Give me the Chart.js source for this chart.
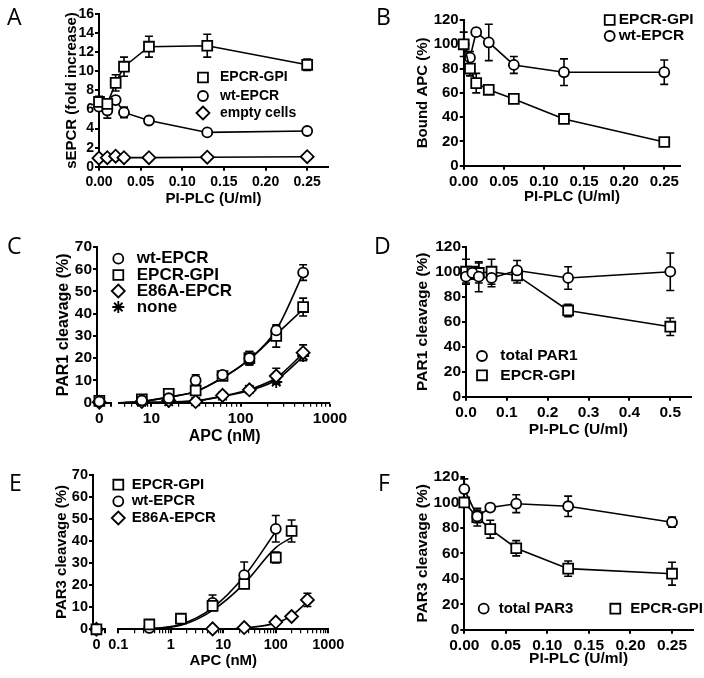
<!DOCTYPE html>
<html>
<head>
<meta charset="utf-8">
<title>EPCR PI-PLC panels</title>
<script src="https://cdn.jsdelivr.net/npm/chart.js@4.4.1/dist/chart.umd.min.js"></script>
<style>
  body { margin: 0; background: #fff; }
  #figure { position: relative; width: 704px; height: 678px; background: #fff; }
  #figure canvas { position: absolute; }
  .tag { position: absolute; font: 400 23px/1 "Open Sans", sans-serif; color: #000; }
</style>
</head>
<body>
<div id="figure">
  <canvas id="chartA" width="352" height="226" style="left:0;top:0"></canvas>
  <canvas id="chartB" width="352" height="226" style="left:352px;top:0"></canvas>
  <canvas id="chartC0" width="352" height="226" style="left:0;top:226px"></canvas>
  <canvas id="chartC" width="352" height="226" style="left:0;top:226px"></canvas>
  <canvas id="chartD" width="352" height="226" style="left:352px;top:226px"></canvas>
  <canvas id="chartE0" width="352" height="226" style="left:0;top:452px"></canvas>
  <canvas id="chartE" width="352" height="226" style="left:0;top:452px"></canvas>
  <canvas id="chartF" width="352" height="226" style="left:352px;top:452px"></canvas>
  <div class="tag" style="left:7px;top:5px">A</div>
  <div class="tag" style="left:376px;top:5px">B</div>
  <div class="tag" style="left:7px;top:234px">C</div>
  <div class="tag" style="left:374px;top:234px">D</div>
  <div class="tag" style="left:9px;top:471px">E</div>
  <div class="tag" style="left:378px;top:471px">F</div>
</div>
<script>
// ---- data ----

// A: sEPCR release (fold increase) vs PI-PLC
var aDose = [0, 0.01, 0.02, 0.03, 0.06, 0.13, 0.25];
var aGpi = [6.8, 6.6, 8.8, 10.5, 12.6, 12.7, 10.7];
var aGpiErr = [0.6, 0.5, 0.85, 1.0, 1.1, 1.2, 0.6];
var aWt = [6.3, 5.9, 7.0, 5.7, 4.85, 3.6, 3.75];
var aWtErr = [0.4, 0.8, 0.3, 0.55, 0.2, 0.2, 0.2];
var aEmpty = [0.9, 0.95, 1.1, 0.95, 0.95, 1.0, 1.05];
var aEmptyErr = [0.1, 0.1, 0.1, 0.1, 0.1, 0.1, 0.1];

// B: bound APC (%) vs PI-PLC
var bDose = [0, 0.0078, 0.0156, 0.03125, 0.0625, 0.125, 0.25];
var bGpi = [100, 80, 68, 62.5, 55, 38.5, 19.5];
var bGpiErr = [2, 6, 8, 2, 3, 3, 3];
var bWt = [100, 89, 110, 101.5, 83, 77, 77];
var bWtErr = [10, 5, 3, 15, 7, 11, 10];

// C: PAR1 cleavage (%) vs APC (nM), log axis plus a separate 0 segment
var cDose = [7.8, 15.6, 31.25, 62.5, 125, 250, 500];
var cWt = [1.0, 2.0, 10.0, 12.5, 20.0, 32.5, 58.5];
var cWtErr = [0.5, 0.5, 2.5, 1.0, 3.0, 2.0, 3.5];
var cGpi = [1.5, 4.0, 5.5, 12.0, 20.0, 30.0, 43.0];
var cGpiErr = [0.5, 1.0, 1.0, 1.5, 3.0, 5.0, 4.0];
var cE86a = [0.5, 1.0, 0.5, 3.3, 5.8, 12.0, 22.5];
var cE86aErr = [0.3, 0.5, 0.5, 1.0, 1.0, 3.5, 3.5];
var cNone = [0.3, 0.5, 0.5, 3.0, 6.0, 9.3, 21.0];
var cNoneErr = [0.3, 0.3, 0.3, 0.5, 0.8, 1.0, 2.0];
var zeroDose = [0];
var cWt0 = [0.5], cGpi0 = [0.8], cE86a0 = [0.2], cNone0 = [0.3];
// fitted curves, read at the same doses
var cFitDose = [4.36, 7.8, 15.6, 31.25, 62.5, 125, 250, 500];
var cWtFit = [0, 0.5, 2.5, 5.0, 11.2, 19.5, 32.7, 58.0];
var cGpiFit = [0, 0.5, 2.5, 5.0, 11.2, 19.5, 30.7, 42.0];
var cE86aFit = [0, 0.1, 0.3, 0.8, 3.0, 5.9, 11.2, 22.2];
var cNoneFit = [0, 0.1, 0.3, 0.8, 2.8, 5.5, 10.2, 20.7];

// D: PAR1 cleavage (%) vs PI-PLC
var dDose = [0, 0.0156, 0.03125, 0.0625, 0.125, 0.25, 0.5];
var dTotal = [96, 99, 96, 95, 101, 95, 100];
var dTotalErr = [5, 5, 12, 7, 8, 9, 15];
var dGpi = [100, 100, 99, 100, 97, 69, 56];
var dGpiErr = [10, 4, 8, 10, 6, 5, 7];

// E: PAR3 cleavage (%) vs APC (nM)
var eGpiDose = [0.39, 1.56, 6.25, 25, 100, 200];
var eGpi = [2.2, 4.8, 10.6, 20.5, 32.5, 44.5];
var eGpiErr = [0.5, 0.8, 1.5, 1.5, 2.5, 5.0];
var eWtDose = [0.39, 1.56, 6.25, 25, 100];
var eWt = [0.6, 4.5, 12.0, 24.5, 45.5];
var eWtErr = [0.3, 0.5, 3.5, 6.0, 6.0];
var eE86aDose = [6.25, 25, 100, 200, 400];
var eE86a = [0.2, 0.8, 3.3, 5.8, 13.3];
var eE86aErr = [0.3, 0.5, 0.8, 1.0, 3.0];
var eGpi0 = [0], eWt0 = [0], eE86a0 = [0];
var eGpiFitDose = [0.1, 0.39, 1.56, 6.25, 25, 100, 200];
var eGpiFit = [0, 0.3, 1.8, 8.6, 20.7, 37.0, 41.5];
var eWtFitDose = [0.1, 0.39, 1.56, 6.25, 25, 100];
var eWtFit = [0, 0.3, 2.3, 9.7, 24.0, 44.3];
var eE86aFitDose = [0.1, 1.56, 6.25, 25, 100, 200, 400];
var eE86aFit = [0, 0, 0.1, 0.6, 2.8, 6.2, 12.5];

// F: PAR3 cleavage (%) vs PI-PLC
var fDose = [0, 0.0156, 0.03125, 0.0625, 0.125, 0.25];
var fTotal = [110.5, 89, 96, 99, 97, 84.5];
var fTotalErr = [8, 5, 2, 7, 8, 4];
var fGpi = [100, 88.5, 79, 64, 48, 44];
var fGpiErr = [3, 7, 7, 6, 6, 9];

// ---- tick values and labels ----
var plcTicks = [0, 0.05, 0.1, 0.15, 0.2, 0.25];
var plcLabels = ['0.00', '0.05', '0.10', '0.15', '0.20', '0.25'];
var plcTicksD = [0, 0.1, 0.2, 0.3, 0.4, 0.5];
var plcLabelsD = ['0.0', '0.1', '0.2', '0.3', '0.4', '0.5'];
var foldTicks = [0, 2, 4, 6, 8, 10, 12, 14, 16];
var foldLabels = ['0', '2', '4', '6', '8', '10', '12', '14', '16'];
var pctTicks = [0, 20, 40, 60, 80, 100, 120];
var pctLabels = ['0', '20', '40', '60', '80', '100', '120'];
var cleaveTicks = [0, 10, 20, 30, 40, 50, 60, 70];
var cleaveLabels = ['0', '10', '20', '30', '40', '50', '60', '70'];
var zeroTicks = [0, 1];
var zeroLabelAt = [0];
var zeroLabels = ['0'];
var cLogTicks = [5, 6, 7, 8, 9, 10, 20, 30, 40, 50, 60, 70, 80, 90,
                 100, 200, 300, 400, 500, 600, 700, 800, 900, 1000];
var cLogLabelAt = [10, 100, 1000];
var cLogLabels = ['10', '100', '1000'];
var eLogTicks = [0.1, 0.2, 0.3, 0.4, 0.5, 0.6, 0.7, 0.8, 0.9,
                 1, 2, 3, 4, 5, 6, 7, 8, 9,
                 10, 20, 30, 40, 50, 60, 70, 80, 90,
                 100, 200, 300, 400, 500, 600, 700, 800, 900, 1000];
var eLogLabelAt = [0.1, 1, 10, 100, 1000];
var eLogLabels = ['0.1', '1', '10', '100', '1000'];

// ---- drawing ----
var W = 352, H = 226;
Chart.defaults.font.family = "'Liberation Sans', Arial, Helvetica, sans-serif";
Chart.defaults.color = '#000';

var RADIUS = {circle: 5, rect: 7, rectRot: 6.5, star: 6};

// vertical SEM bars, drawn under the markers
var errorBars = {
    id: 'errorBars',
    beforeDatasetsDraw: function (chart) {
        var ctx = chart.ctx;
        ctx.save();
        ctx.strokeStyle = '#000';
        ctx.lineWidth = 1.6;
        chart.data.datasets.forEach(function (ds, i) {
            if (!ds.errors) return;
            var meta = chart.getDatasetMeta(i);
            var yScale = chart.scales[meta.yAxisID];
            meta.data.forEach(function (pt, j) {
                var e = ds.errors[j];
                if (!e) return;
                var v = ds.data[j].y;
                var top = yScale.getPixelForValue(v + e);
                var bot = yScale.getPixelForValue(v - e);
                ctx.beginPath();
                ctx.moveTo(pt.x, top);
                ctx.lineTo(pt.x, bot);
                ctx.moveTo(pt.x - 4, top);
                ctx.lineTo(pt.x + 4, top);
                ctx.moveTo(pt.x - 4, bot);
                ctx.lineTo(pt.x + 4, bot);
                ctx.stroke();
            });
        });
        ctx.restore();
    }
};

// legend drawn at fixed spots inside the plot
function legendAt(spots, gap, size) {
    return {
        id: 'panelLegend',
        afterDraw: function (chart) {
            var ctx = chart.ctx;
            var k = 0;
            ctx.save();
            ctx.font = 'bold ' + size + 'px ' + Chart.defaults.font.family;
            ctx.textBaseline = 'middle';
            chart.data.datasets.forEach(function (ds) {
                if (!ds.label || !spots[k]) return;
                var p = spots[k++];
                ctx.fillStyle = '#fff';
                ctx.strokeStyle = '#000';
                ctx.lineWidth = ds.pointBorderWidth;
                Chart.helpers.drawPoint(ctx, {
                    pointStyle: ds.pointStyle, rotation: 0,
                    radius: ds.pointRadius, borderWidth: ds.pointBorderWidth
                }, p[0], p[1]);
                ctx.fillStyle = '#000';
                ctx.fillText(ds.label, p[0] + gap, p[1]);
            });
            ctx.restore();
        }
    };
}

function points(label, xs, ys, errs, style, joined) {
    return {
        label: label,
        data: xs.map(function (x, i) { return {x: x, y: ys[i]}; }),
        errors: errs,
        showLine: joined,
        borderColor: '#000',
        borderWidth: 1.6,
        pointStyle: style,
        pointRadius: RADIUS[style],
        pointBorderWidth: 1.8,
        pointBackgroundColor: '#fff',
        pointBorderColor: '#000',
        clip: false
    };
}

function fitLine(xs, ys) {
    return {
        data: xs.map(function (x, i) { return {x: x, y: ys[i]}; }),
        showLine: true,
        borderColor: '#000',
        borderWidth: 1.6,
        pointRadius: 0,
        tension: 0.4,
        cubicInterpolationMode: 'monotone',
        clip: false
    };
}

function axisOptions(a, horizontal, area, titlePos, tickSize, titleSize) {
    var lh = titleSize * 1.2;
    var labelAt = a.labelAt || a.ticks;
    return {
        type: a.type || 'linear',
        display: a.display !== false,
        position: horizontal ? 'bottom' : 'left',
        min: a.min,
        max: a.max,
        afterBuildTicks: function (scale) {
            scale.ticks = a.ticks.map(function (v) { return {value: v}; });
        },
        // fixed box sizes so the plot area lands where the reference has it
        afterFit: function (scale) {
            if (horizontal) {
                scale.height = H - area.bottom;
            } else {
                scale.width = area.left;
            }
        },
        border: {display: true, color: '#000', width: 2},
        grid: {
            drawOnChartArea: false,
            color: '#000',
            tickLength: 4,
            // unlabelled (minor) log ticks are thinner
            lineWidth: function (c) {
                if (a.type !== 'logarithmic' || !c.tick) return 2;
                return labelAt.indexOf(c.tick.value) < 0 ? 1.2 : 2;
            }
        },
        ticks: {
            color: '#000',
            autoSkip: false,
            maxRotation: 0,
            padding: horizontal ? 3 : 1,
            font: {size: tickSize, weight: 'bold'},
            callback: function (value) {
                var i = labelAt.indexOf(value);
                return i < 0 ? '' : a.labels[i];
            }
        },
        title: {
            display: !!a.title,
            text: a.title,
            color: '#000',
            font: {size: titleSize, weight: 'bold'},
            padding: horizontal ? {top: 0, bottom: H - titlePos - lh / 2}
                                : {top: Math.max(titlePos - lh / 2, 0), bottom: 0}
        }
    };
}

function makeChart(id, spec) {
    var area = spec.area;
    var plugins = [errorBars];
    if (spec.legend) plugins.push(spec.legend);
    return new Chart(document.getElementById(id), {
        type: 'scatter',
        data: {datasets: spec.datasets},
        options: {
            responsive: false,
            animation: false,
            events: [],
            layout: {padding: {left: 0, top: area.top, right: W - area.right, bottom: 0}},
            scales: {
                x: axisOptions(spec.x, true, area, spec.xTitleY, spec.tickSize, spec.titleSize),
                y: axisOptions(spec.y, false, area, spec.yTitleX, spec.tickSize, spec.titleSize)
            },
            plugins: {legend: {display: false}, tooltip: {enabled: false}}
        },
        plugins: plugins
    });
}

// A
makeChart('chartA', {
    area: {left: 99, top: 14.3, right: 328, bottom: 166.7},
    yTitleX: 72, xTitleY: 199, tickSize: 14, titleSize: 15,
    x: {min: 0, max: 0.275, ticks: plcTicks, labels: plcLabels, title: 'PI-PLC (U/ml)'},
    y: {min: 0, max: 16, ticks: foldTicks, labels: foldLabels, title: 'sEPCR (fold increase)'},
    datasets: [
        points('EPCR-GPI', aDose, aGpi, aGpiErr, 'rect', true),
        points('wt-EPCR', aDose, aWt, aWtErr, 'circle', true),
        points('empty cells', aDose, aEmpty, aEmptyErr, 'rectRot', true)
    ],
    legend: legendAt([[203, 77.5], [203, 96], [203, 113]], 17, 14)
});

// B
makeChart('chartB', {
    area: {left: 111.7, top: 20, right: 328.3, bottom: 165.7},
    yTitleX: 70.5, xTitleY: 197, tickSize: 15, titleSize: 15,
    x: {min: 0, max: 0.27, ticks: plcTicks, labels: plcLabels, title: 'PI-PLC (U/ml)'},
    y: {min: 0, max: 120, ticks: pctTicks, labels: pctLabels, title: 'Bound APC (%)'},
    datasets: [
        points('EPCR-GPI', bDose, bGpi, bGpiErr, 'rect', true),
        points('wt-EPCR', bDose, bWt, bWtErr, 'circle', true)
    ],
    legend: legendAt([[257.7, 20], [257.7, 36]], 9, 15.5)
});

// C, APC = 0 segment (carries the y axis)
makeChart('chartC0', {
    area: {left: 97, top: 21, right: 111, bottom: 176.7},
    yTitleX: 63.5, xTitleY: 210.5, tickSize: 15.5, titleSize: 16,
    x: {min: -0.2, max: 1, ticks: zeroTicks, labelAt: zeroLabelAt, labels: zeroLabels},
    y: {min: 0, max: 70, ticks: cleaveTicks, labels: cleaveLabels, title: 'PAR1 cleavage (%)'},
    datasets: [
        points(null, zeroDose, cWt0, null, 'circle', false),
        points(null, zeroDose, cGpi0, null, 'rect', false),
        points(null, zeroDose, cE86a0, [1], 'rectRot', false),
        points(null, zeroDose, cNone0, null, 'star', false)
    ]
});

// C, log segment
makeChart('chartC', {
    area: {left: 119.3, top: 21, right: 330, bottom: 176.7},
    yTitleX: 0, xTitleY: 210.5, tickSize: 15.5, titleSize: 16,
    x: {type: 'logarithmic', min: 4.36, max: 1000, ticks: cLogTicks, labelAt: cLogLabelAt, labels: cLogLabels, title: 'APC (nM)'},
    y: {display: false, min: 0, max: 70, ticks: cleaveTicks, labels: cleaveLabels},
    datasets: [
        points('wt-EPCR', cDose, cWt, cWtErr, 'circle', false),
        points('EPCR-GPI', cDose, cGpi, cGpiErr, 'rect', false),
        points('E86A-EPCR', cDose, cE86a, cE86aErr, 'rectRot', false),
        points('none', cDose, cNone, cNoneErr, 'star', false),
        fitLine(cFitDose, cWtFit),
        fitLine(cFitDose, cGpiFit),
        fitLine(cFitDose, cE86aFit),
        fitLine(cFitDose, cNoneFit)
    ],
    legend: legendAt([[118.3, 32.7], [118.3, 49], [118.3, 65], [118.3, 81]], 18.4, 17)
});

// D
makeChart('chartD', {
    area: {left: 114, top: 20.7, right: 338.7, bottom: 170.7},
    yTitleX: 70.3, xTitleY: 204, tickSize: 15.5, titleSize: 15.5,
    x: {min: 0, max: 0.55, ticks: plcTicksD, labels: plcLabelsD, title: 'PI-PLC (U/ml)'},
    y: {min: 0, max: 120, ticks: pctTicks, labels: pctLabels, title: 'PAR1 cleavage (%)'},
    datasets: [
        points('total PAR1', dDose, dTotal, dTotalErr, 'circle', true),
        points('EPCR-GPI', dDose, dGpi, dGpiErr, 'rect', true)
    ],
    legend: legendAt([[130, 130], [130, 149.3]], 18.3, 15.5)
});

// E, APC = 0 segment
makeChart('chartE0', {
    area: {left: 93, top: 22.7, right: 105, bottom: 177.3},
    yTitleX: 61.7, xTitleY: 209, tickSize: 14.5, titleSize: 15,
    x: {min: -0.4, max: 1, ticks: zeroTicks, labelAt: zeroLabelAt, labels: zeroLabels},
    y: {min: 0, max: 70, ticks: cleaveTicks, labels: cleaveLabels, title: 'PAR3 cleavage (%)'},
    datasets: [
        points(null, zeroDose, eGpi0, null, 'rect', false),
        points(null, zeroDose, eWt0, null, 'circle', false),
        points(null, zeroDose, eE86a0, null, 'rectRot', false)
    ]
});

// E, log segment
makeChart('chartE', {
    area: {left: 118.3, top: 22.7, right: 328.3, bottom: 177.3},
    yTitleX: 0, xTitleY: 209, tickSize: 14.5, titleSize: 15,
    x: {type: 'logarithmic', min: 0.1, max: 1000, ticks: eLogTicks, labelAt: eLogLabelAt, labels: eLogLabels, title: 'APC (nM)'},
    y: {display: false, min: 0, max: 70, ticks: cleaveTicks, labels: cleaveLabels},
    datasets: [
        points('EPCR-GPI', eGpiDose, eGpi, eGpiErr, 'rect', false),
        points('wt-EPCR', eWtDose, eWt, eWtErr, 'circle', false),
        points('E86A-EPCR', eE86aDose, eE86a, eE86aErr, 'rectRot', false),
        fitLine(eGpiFitDose, eGpiFit),
        fitLine(eWtFitDose, eWtFit),
        fitLine(eE86aFitDose, eE86aFit)
    ],
    legend: legendAt([[118.3, 32.7], [118.3, 49.3], [118.3, 66]], 13.4, 15)
});

// F
makeChart('chartF', {
    area: {left: 112.3, top: 25, right: 340.8, bottom: 177.7},
    yTitleX: 71, xTitleY: 206.7, tickSize: 15.5, titleSize: 15.5,
    x: {min: 0, max: 0.275, ticks: plcTicks, labels: plcLabels, title: 'PI-PLC (U/ml)'},
    y: {min: 0, max: 120, ticks: pctTicks, labels: pctLabels, title: 'PAR3 cleavage (%)'},
    datasets: [
        points('total PAR3', fDose, fTotal, fTotalErr, 'circle', true),
        points('EPCR-GPI', fDose, fGpi, fGpiErr, 'rect', true)
    ],
    legend: legendAt([[131.7, 156.7], [263.3, 156.7]], 15, 15)
});
</script>
</body>
</html>
